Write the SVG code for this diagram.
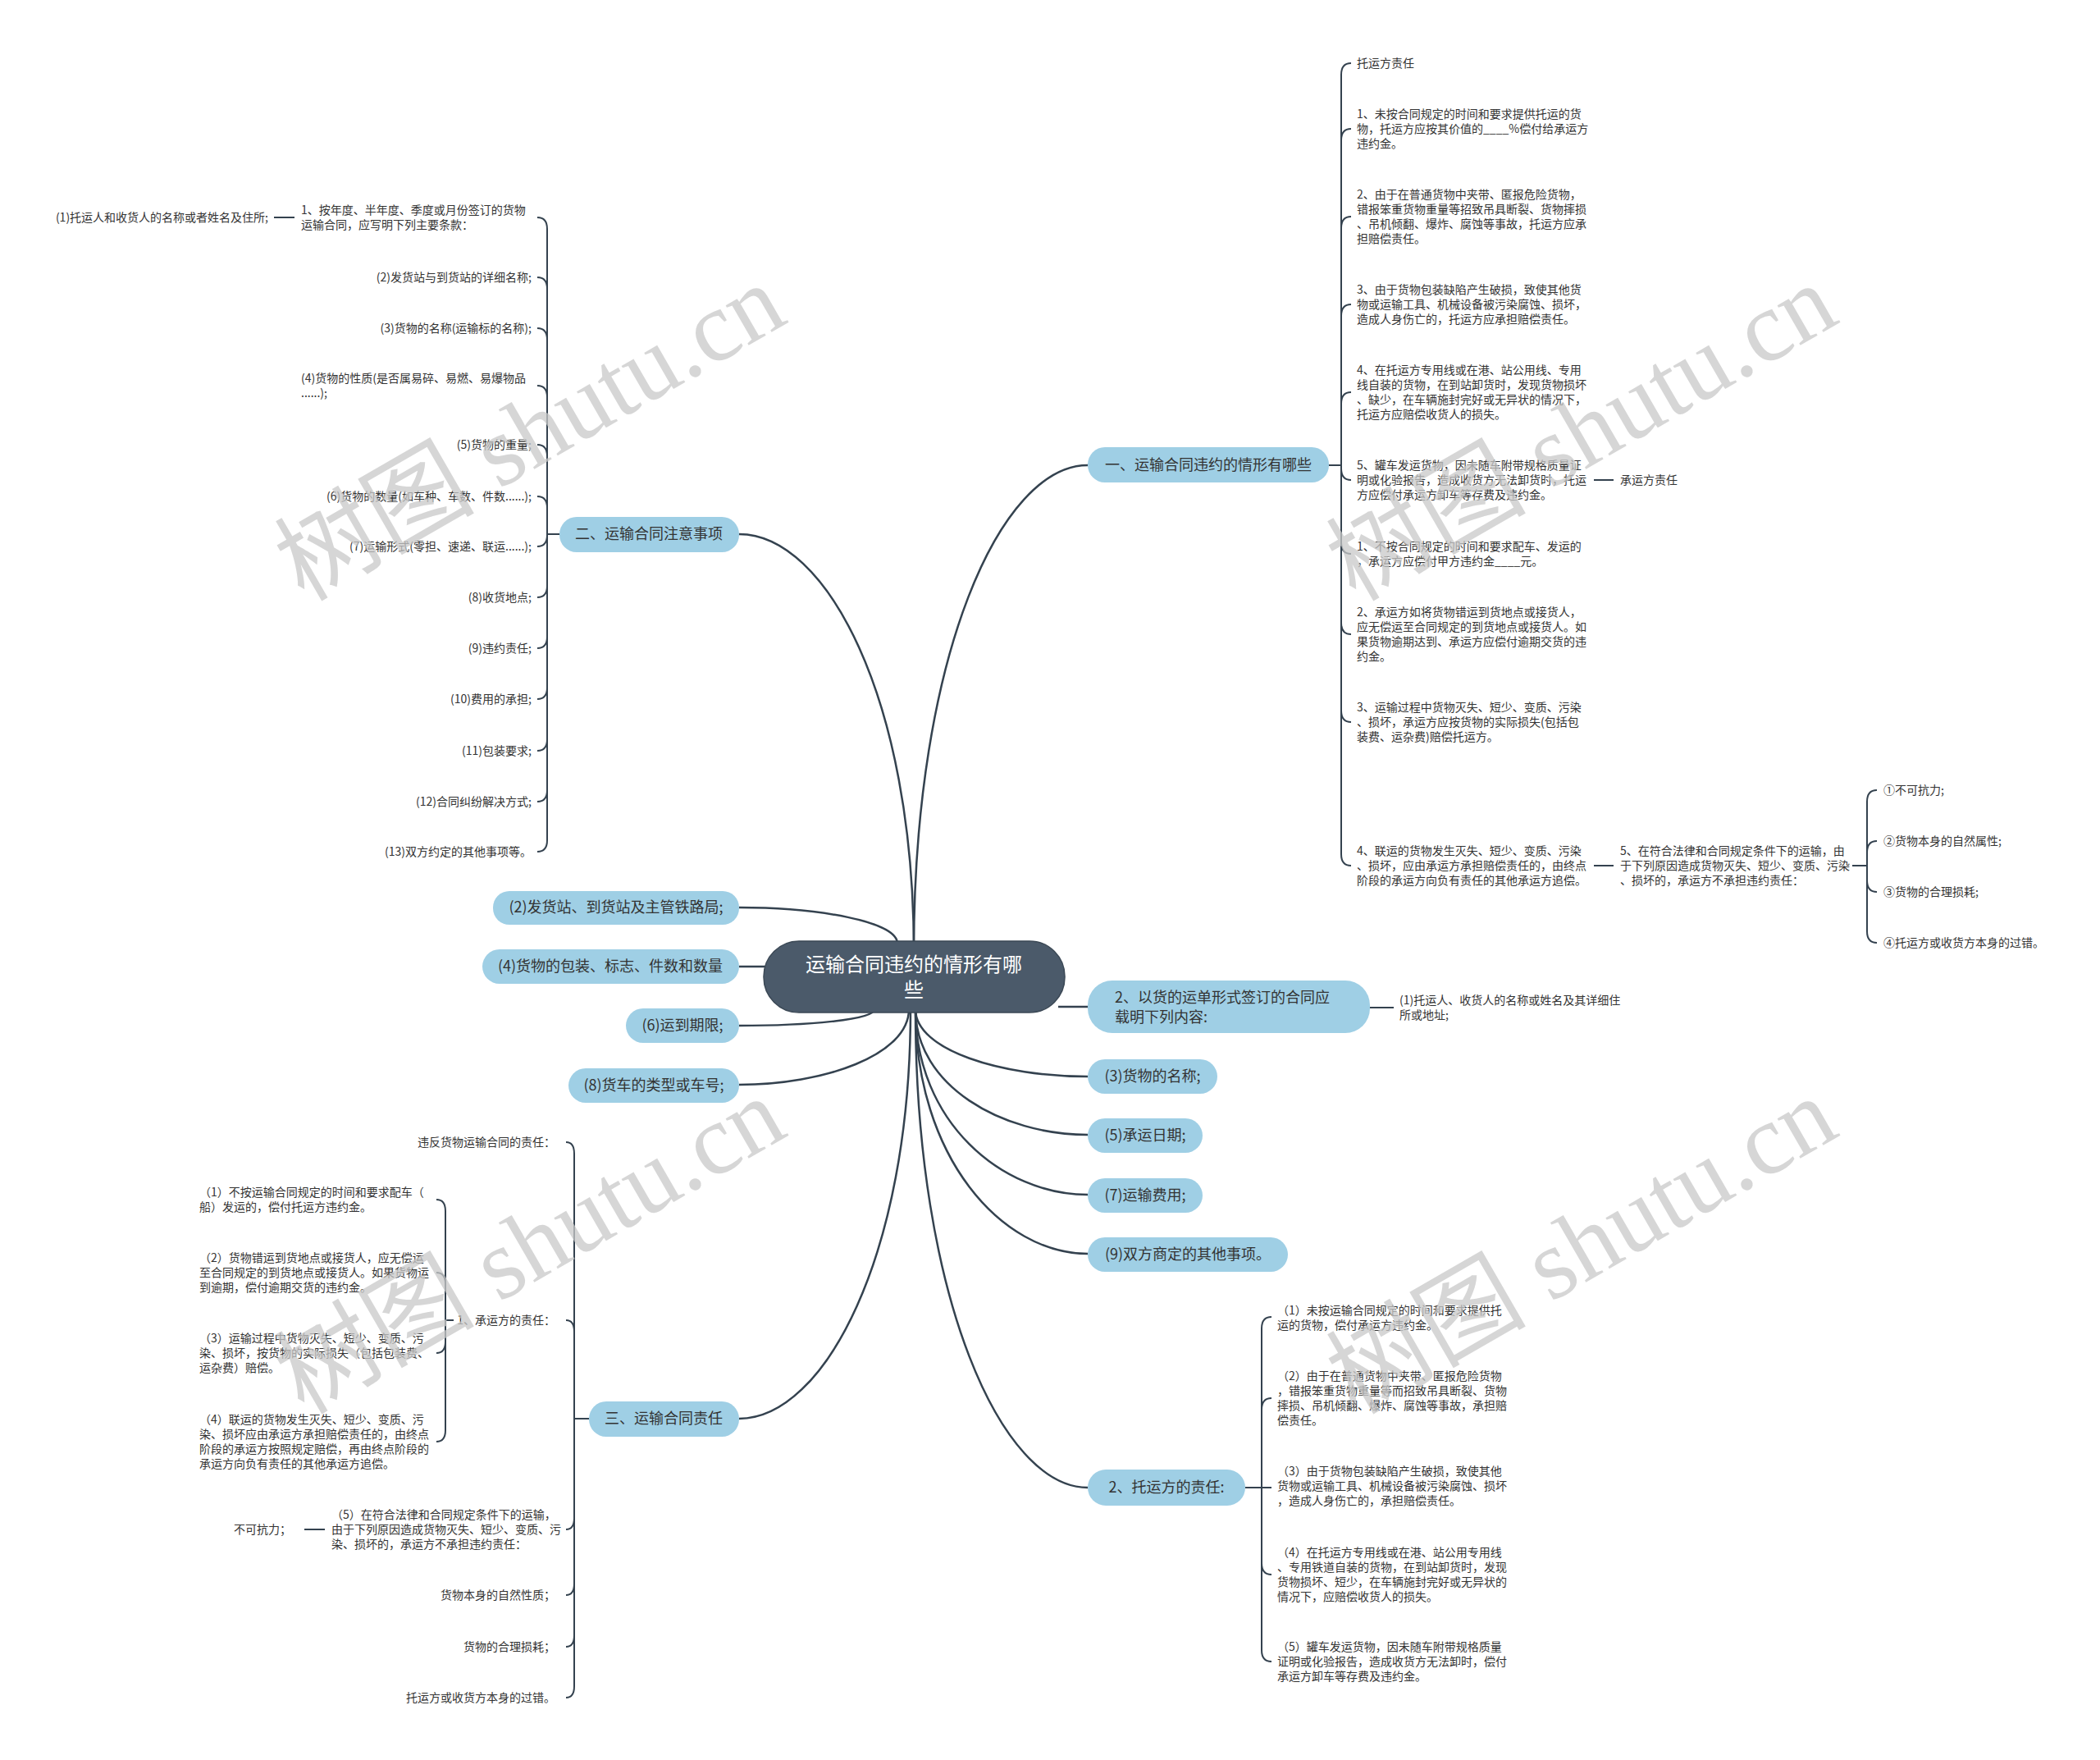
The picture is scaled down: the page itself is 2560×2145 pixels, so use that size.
<svg xmlns="http://www.w3.org/2000/svg" width="2560" height="2145" viewBox="0 0 2560 2145">
<style>
text{font-family:"Noto Sans CJK SC","Noto Sans",sans-serif;}
.leaf{font-size:14px;fill:#333;}
.end{text-anchor:end;}
.pill rect{fill:#9fcfe5;}
.pill text{font-size:18px;fill:#333;text-anchor:middle;}
.conn path{fill:none;stroke:#34424f;stroke-width:2.5;}
.conn path.thin{stroke-width:2;}
.wm{font-family:"Liberation Serif","Noto Sans CJK SC",serif;font-size:122px;fill:#c9c9c9;opacity:0.75;text-anchor:middle;dominant-baseline:central;}
</style>
<rect width="2560" height="2145" fill="#fff"/>

<g id="connectors" class="conn">
<path d="M1114,1160 C1114,799 1220,567 1326,567"/>
<path d="M1114,1160 C1114,850 1007,651 901,651"/>
<path d="M1094,1150 C1094,1123 997,1106 901,1106"/>
<path d="M901,1178 H935"/>
<path d="M1066,1230 C1066,1243 983,1250 901,1250"/>
<path d="M1108,1230 C1108,1286 1004,1322 901,1322"/>
<path d="M1110,1230 C1110,1530 1005,1729 901,1729"/>
<path d="M1290,1227 H1326"/>
<path d="M1116,1230 C1116,1280 1221,1312 1326,1312"/>
<path d="M1116,1230 C1116,1323 1221,1383 1326,1383"/>
<path d="M1116,1230 C1116,1367 1221,1456 1326,1456"/>
<path d="M1116,1230 C1116,1410 1221,1528 1326,1528"/>
<path d="M1116,1230 C1116,1581 1221,1813 1326,1813"/>

<path class="thin" d="M1620,567 H1635 M1635,567 V91 Q1635,77 1647,77 M1635,567 V171 Q1635,157 1647,157 M1635,567 V278 Q1635,264 1647,264 M1635,567 V385 Q1635,371 1647,371 M1635,567 V492 Q1635,478 1647,478 M1635,567 V571 Q1635,585 1647,585 M1635,567 V661 Q1635,675 1647,675 M1635,567 V759 Q1635,773 1647,773 M1635,567 V866 Q1635,880 1647,880 M1635,567 V1041 Q1635,1055 1647,1055"/>
<path class="thin" d="M1943,585 H1967 M1943,1055 H1967"/>
<path class="thin" d="M2258,1055 H2276 M2276,1055 V977 Q2276,963 2288,963 M2276,1055 V1039 Q2276,1025 2288,1025 M2276,1055 V1073 Q2276,1087 2288,1087 M2276,1055 V1135 Q2276,1149 2288,1149"/>
<path class="thin" d="M1670,1228 H1699"/>
<path class="thin" d="M682,651 H667 M667,651 V279 Q667,265 655,265 M667,651 V352 Q667,338 655,338 M667,651 V414 Q667,400 655,400 M667,651 V484 Q667,470 655,470 M667,651 V556 Q667,542 655,542 M667,651 V619 Q667,605 655,605 M667,651 V652 Q667,666 655,666 M667,651 V714 Q667,728 655,728 M667,651 V776 Q667,790 655,790 M667,651 V838 Q667,852 655,852 M667,651 V901 Q667,915 655,915 M667,651 V963 Q667,977 655,977 M667,651 V1024 Q667,1038 655,1038"/>
<path class="thin" d="M334,265 H359"/>
<path class="thin" d="M718,1729 H700 M700,1729 V1406 Q700,1392 690,1392 M700,1729 V1623 Q700,1609 690,1609 M700,1729 V1850 Q700,1864 690,1864 M700,1729 V1930 Q700,1944 690,1944 M700,1729 V1993 Q700,2007 690,2007 M700,1729 V2055 Q700,2069 690,2069"/>
<path class="thin" d="M553,1609 H543 M543,1609 V1476 Q543,1462 532,1462 M543,1609 V1565 Q543,1551 532,1551 M543,1609 V1635 Q543,1649 532,1649 M543,1609 V1743 Q543,1757 532,1757"/>
<path class="thin" d="M371,1864 H396"/>
<path class="thin" d="M1518,1813 H1550 M1538,1813 V1619 Q1538,1605 1550,1605 M1538,1813 V1718 Q1538,1704 1550,1704 M1538,1813 V1905 Q1538,1919 1550,1919 M1538,1813 V2011 Q1538,2025 1550,2025"/>
</g>

<g id="root">
<rect x="931" y="1147" width="367" height="87" rx="43" fill="#4b5a6a" stroke="#3b4855" stroke-width="1.5"/>
<text x="1114" y="1184" font-size="24" fill="#fff" text-anchor="middle">运输合同违约的情形有哪</text>
<text x="1114" y="1215" font-size="24" fill="#fff" text-anchor="middle">些</text>
</g>

<g id="b1" class="pill"><rect x="1326" y="545" width="294" height="43" rx="21"/><text x="1473" y="573">一、运输合同违约的情形有哪些</text></g>
<g id="b2" class="pill"><rect x="1326" y="1195" width="344" height="64" rx="30"/><text x="1359" y="1222" style="text-anchor:start">2、以货的运单形式签订的合同应</text><text x="1359" y="1246" style="text-anchor:start">载明下列内容:</text></g>
<g id="b3" class="pill"><rect x="1326" y="1291" width="158" height="42" rx="21"/><text x="1405" y="1318">(3)货物的名称;</text></g>
<g id="b5" class="pill"><rect x="1326" y="1363" width="140" height="42" rx="21"/><text x="1396" y="1390">(5)承运日期;</text></g>
<g id="b7" class="pill"><rect x="1326" y="1436" width="140" height="42" rx="21"/><text x="1396" y="1463">(7)运输费用;</text></g>
<g id="b9" class="pill"><rect x="1326" y="1508" width="244" height="42" rx="21"/><text x="1448" y="1535">(9)双方商定的其他事项。</text></g>
<g id="btuo" class="pill"><rect x="1326" y="1791" width="192" height="44" rx="22"/><text x="1422" y="1819">2、托运方的责任:</text></g>
<g id="b2l" class="pill"><rect x="682" y="630" width="219" height="43" rx="21"/><text x="791" y="657">二、运输合同注意事项</text></g>
<g id="bfa" class="pill"><rect x="601" y="1086" width="300" height="41" rx="20"/><text x="751" y="1112">(2)发货站、到货站及主管铁路局;</text></g>
<g id="bbao" class="pill"><rect x="588" y="1157" width="313" height="42" rx="21"/><text x="744" y="1184">(4)货物的包装、标志、件数和数量</text></g>
<g id="bqi" class="pill"><rect x="763" y="1229" width="138" height="42" rx="21"/><text x="832" y="1256">(6)运到期限;</text></g>
<g id="bche" class="pill"><rect x="693" y="1302" width="208" height="42" rx="21"/><text x="797" y="1329">(8)货车的类型或车号;</text></g>
<g id="b3l" class="pill"><rect x="718" y="1708" width="183" height="43" rx="21"/><text x="809" y="1735">三、运输合同责任</text></g>

<g id="leaves-a" class="leaf">
<text x="1654" y="82">托运方责任</text>
<text x="1654" y="144">1、未按合同规定的时间和要求提供托运的货</text>
<text x="1654" y="162">物，托运方应按其价值的____%偿付给承运方</text>
<text x="1654" y="180">违约金。</text>
<text x="1654" y="242">2、由于在普通货物中夹带、匿报危险货物，</text>
<text x="1654" y="260">错报笨重货物重量等招致吊具断裂、货物摔损</text>
<text x="1654" y="278">、吊机倾翻、爆炸、腐蚀等事故，托运方应承</text>
<text x="1654" y="296">担赔偿责任。</text>
<text x="1654" y="358">3、由于货物包装缺陷产生破损，致使其他货</text>
<text x="1654" y="376">物或运输工具、机械设备被污染腐蚀、损坏，</text>
<text x="1654" y="394">造成人身伤亡的，托运方应承担赔偿责任。</text>
<text x="1654" y="456">4、在托运方专用线或在港、站公用线、专用</text>
<text x="1654" y="474">线自装的货物，在到站卸货时，发现货物损坏</text>
<text x="1654" y="492">、缺少，在车辆施封完好或无异状的情况下，</text>
<text x="1654" y="510">托运方应赔偿收货人的损失。</text>
<text x="1654" y="572">5、罐车发运货物，因未随车附带规格质量证</text>
<text x="1654" y="590">明或化验报告，造成收货方无法卸货时，托运</text>
<text x="1654" y="608">方应偿付承运方卸车等存费及违约金。</text>
<text x="1975" y="590">承运方责任</text>
<text x="1654" y="671">1、不按合同规定的时间和要求配车、发运的</text>
<text x="1654" y="689">，承运方应偿付甲方违约金____元。</text>
<text x="1654" y="751">2、承运方如将货物错运到货地点或接货人，</text>
<text x="1654" y="769">应无偿运至合同规定的到货地点或接货人。如</text>
<text x="1654" y="787">果货物逾期达到、承运方应偿付逾期交货的违</text>
<text x="1654" y="805">约金。</text>
<text x="1654" y="867">3、运输过程中货物灭失、短少、变质、污染</text>
<text x="1654" y="885">、损坏，承运方应按货物的实际损失(包括包</text>
<text x="1654" y="903">装费、运杂费)赔偿托运方。</text>
<text x="1654" y="1042">4、联运的货物发生灭失、短少、变质、污染</text>
<text x="1654" y="1060">、损坏，应由承运方承担赔偿责任的，由终点</text>
<text x="1654" y="1078">阶段的承运方向负有责任的其他承运方追偿。</text>
<text x="1975" y="1042">5、在符合法律和合同规定条件下的运输，由</text>
<text x="1975" y="1060">于下列原因造成货物灭失、短少、变质、污染</text>
<text x="1975" y="1078">、损坏的，承运方不承担违约责任：</text>
<text x="2296" y="968">①不可抗力;</text>
<text x="2296" y="1030">②货物本身的自然属性;</text>
<text x="2296" y="1092">③货物的合理损耗;</text>
<text x="2296" y="1154">④托运方或收货方本身的过错。</text>
<text x="1706" y="1224">(1)托运人、收货人的名称或姓名及其详细住</text>
<text x="1706" y="1242">所或地址;</text>
</g>

<g id="leaves-c" class="leaf">
<text x="367" y="261">1、按年度、半年度、季度或月份签订的货物</text>
<text x="367" y="279">运输合同，应写明下列主要条款：</text>
<text class="end" x="327" y="270">(1)托运人和收货人的名称或者姓名及住所;</text>
<text class="end" x="648" y="343">(2)发货站与到货站的详细名称;</text>
<text class="end" x="648" y="405">(3)货物的名称(运输标的名称);</text>
<text x="367" y="466">(4)货物的性质(是否属易碎、易燃、易爆物品</text>
<text x="367" y="484">......);</text>
<text class="end" x="648" y="547">(5)货物的重量;</text>
<text class="end" x="648" y="610">(6)货物的数量(如车种、车数、件数......);</text>
<text class="end" x="648" y="671">(7)运输形式(零担、速递、联运......);</text>
<text class="end" x="648" y="733">(8)收货地点;</text>
<text class="end" x="648" y="795">(9)违约责任;</text>
<text class="end" x="648" y="857">(10)费用的承担;</text>
<text class="end" x="648" y="920">(11)包装要求;</text>
<text class="end" x="648" y="982">(12)合同纠纷解决方式;</text>
<text class="end" x="648" y="1043">(13)双方约定的其他事项等。</text>
</g>

<g id="leaves-d" class="leaf">
<text class="end" x="677" y="1397">违反货物运输合同的责任：</text>
<text class="end" x="677" y="1614">1、承运方的责任：</text>
<text x="243" y="1458">（1）不按运输合同规定的时间和要求配车（</text>
<text x="243" y="1476">船）发运的，偿付托运方违约金。</text>
<text x="243" y="1538">（2）货物错运到货地点或接货人，应无偿运</text>
<text x="243" y="1556">至合同规定的到货地点或接货人。如果货物运</text>
<text x="243" y="1574">到逾期，偿付逾期交货的违约金。</text>
<text x="243" y="1636">（3）运输过程中货物灭失、短少、变质、污</text>
<text x="243" y="1654">染、损坏，按货物的实际损失（包括包装费、</text>
<text x="243" y="1672">运杂费）赔偿。</text>
<text x="243" y="1735">（4）联运的货物发生灭失、短少、变质、污</text>
<text x="243" y="1753">染、损坏应由承运方承担赔偿责任的，由终点</text>
<text x="243" y="1771">阶段的承运方按照规定赔偿，再由终点阶段的</text>
<text x="243" y="1789">承运方向负有责任的其他承运方追偿。</text>
<text x="404" y="1851">（5）在符合法律和合同规定条件下的运输，</text>
<text x="404" y="1869">由于下列原因造成货物灭失、短少、变质、污</text>
<text x="404" y="1887">染、损坏的，承运方不承担违约责任：</text>
<text class="end" x="355" y="1869">不可抗力；</text>
<text class="end" x="677" y="1949">货物本身的自然性质；</text>
<text class="end" x="677" y="2012">货物的合理损耗；</text>
<text class="end" x="677" y="2074">托运方或收货方本身的过错。</text>
</g>

<g id="leaves-e" class="leaf">
<text x="1557" y="1602">（1）未按运输合同规定的时间和要求提供托</text>
<text x="1557" y="1620">运的货物，偿付承运方违约金。</text>
<text x="1557" y="1682">（2）由于在普通货物中夹带、匿报危险货物</text>
<text x="1557" y="1700">，错报笨重货物重量等而招致吊具断裂、货物</text>
<text x="1557" y="1718">摔损、吊机倾翻、爆炸、腐蚀等事故，承担赔</text>
<text x="1557" y="1736">偿责任。</text>
<text x="1557" y="1798">（3）由于货物包装缺陷产生破损，致使其他</text>
<text x="1557" y="1816">货物或运输工具、机械设备被污染腐蚀、损坏</text>
<text x="1557" y="1834">，造成人身伤亡的，承担赔偿责任。</text>
<text x="1557" y="1897">（4）在托运方专用线或在港、站公用专用线</text>
<text x="1557" y="1915">、专用铁道自装的货物，在到站卸货时，发现</text>
<text x="1557" y="1933">货物损坏、短少，在车辆施封完好或无异状的</text>
<text x="1557" y="1951">情况下，应赔偿收货人的损失。</text>
<text x="1557" y="2012">（5）罐车发运货物，因未随车附带规格质量</text>
<text x="1557" y="2030">证明或化验报告，造成收货方无法卸时，偿付</text>
<text x="1557" y="2048">承运方卸车等存费及违约金。</text>
</g>

<g id="watermarks">
<text class="wm" transform="rotate(-30 646 527)" x="646" y="527">树图 shutu.cn</text>
<text class="wm" transform="rotate(-30 1928 527)" x="1928" y="527">树图 shutu.cn</text>
<text class="wm" transform="rotate(-30 646 1518)" x="646" y="1518">树图 shutu.cn</text>
<text class="wm" transform="rotate(-30 1928 1518)" x="1928" y="1518">树图 shutu.cn</text>
</g>
</svg>
